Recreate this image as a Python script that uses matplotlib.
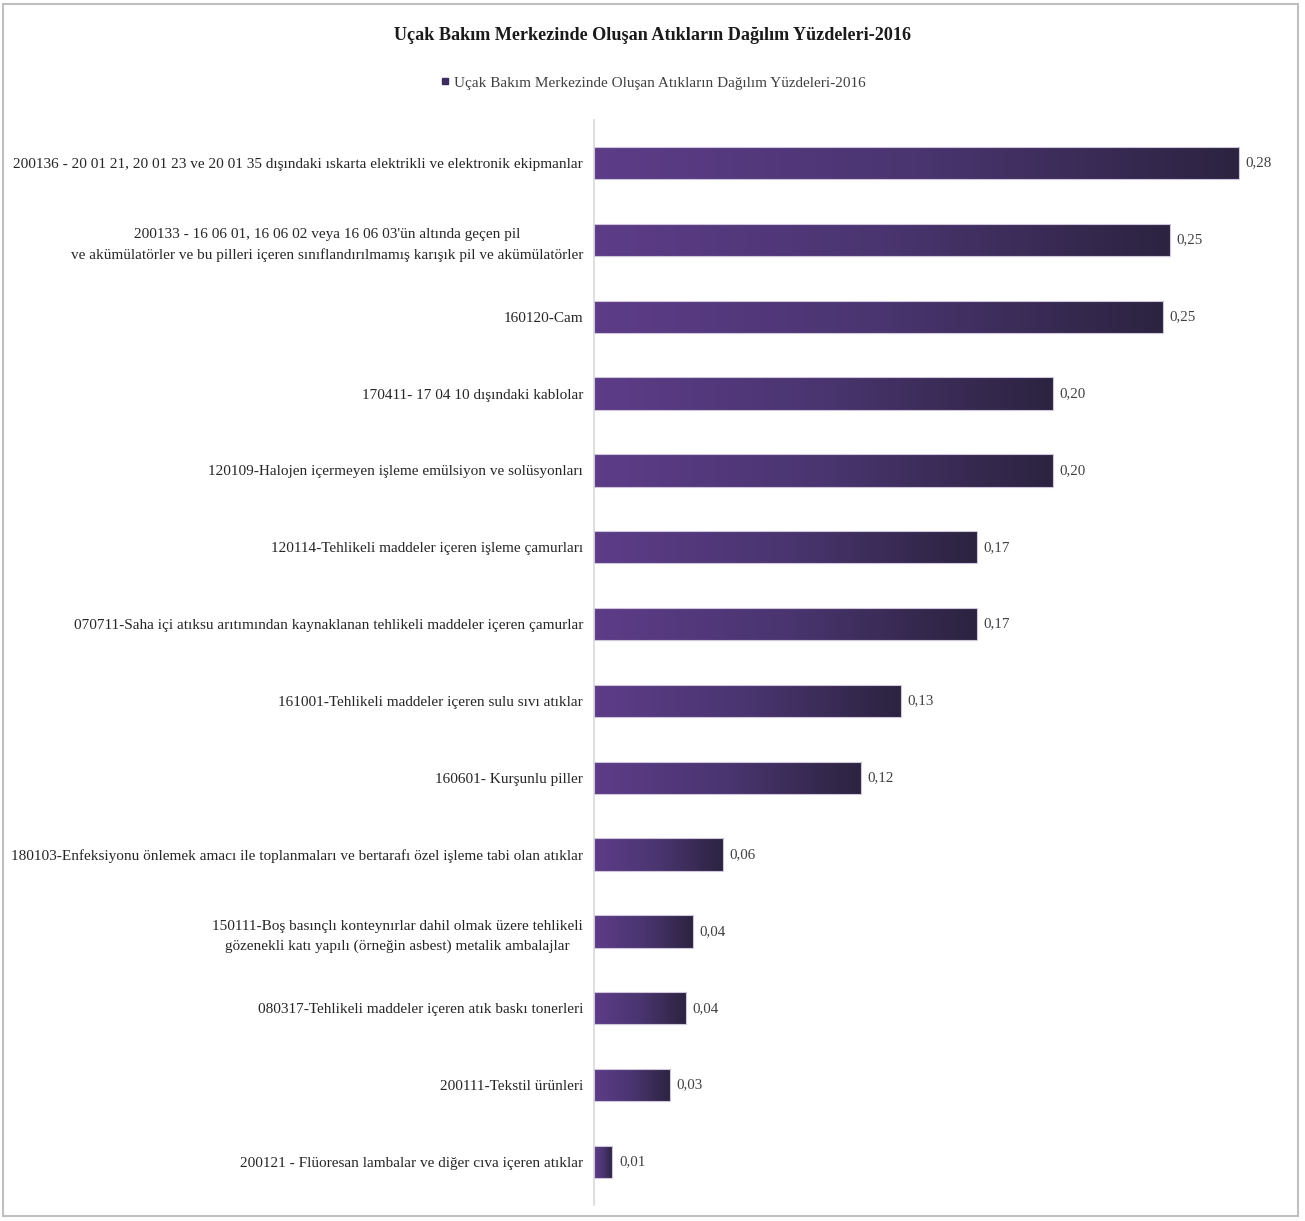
import numpy as np
import matplotlib
matplotlib.use("Agg")
from matplotlib import pyplot as plt
from matplotlib.colors import LinearSegmentedColormap
from matplotlib.lines import Line2D
from matplotlib.patches import Rectangle

plt.rcParams['font.family'] = ['Liberation Serif', 'DejaVu Serif']

title = "Uçak Bakım Merkezinde Oluşan Atıkların Dağılım Yüzdeleri-2016"

categories = [
    "200136 - 20 01 21, 20 01 23 ve 20 01 35 dışındaki ıskarta elektrikli ve elektronik ekipmanlar",
    "200133 - 16 06 01, 16 06 02 veya 16 06 03'ün altında geçen pil\n"
    "ve akümülatörler ve bu pilleri içeren sınıflandırılmamış karışık pil ve akümülatörler",
    "160120-Cam",
    "170411- 17 04 10 dışındaki kablolar",
    "120109-Halojen içermeyen işleme emülsiyon ve solüsyonları",
    "120114-Tehlikeli maddeler içeren işleme çamurları",
    "070711-Saha içi atıksu arıtımından kaynaklanan tehlikeli maddeler içeren çamurlar",
    "161001-Tehlikeli maddeler içeren sulu sıvı atıklar",
    "160601- Kurşunlu piller",
    "180103-Enfeksiyonu önlemek amacı ile toplanmaları ve bertarafı özel işleme tabi olan atıklar",
    "150111-Boş basınçlı konteynırlar dahil olmak üzere tehlikeli\n"
    "gözenekli katı yapılı (örneğin asbest) metalik ambalajlar",
    "080317-Tehlikeli maddeler içeren atık baskı tonerleri",
    "200111-Tekstil ürünleri",
    "200121 - Flüoresan lambalar ve diğer cıva içeren atıklar",
]
values = [0.280, 0.250, 0.247, 0.199, 0.199, 0.166, 0.166,
          0.133, 0.116, 0.056, 0.043, 0.040, 0.033, 0.008]

fig = plt.figure(figsize=(13.05, 12.21), dpi=100)
ax = fig.add_axes([0.4552, 0.0131, 0.5333, 0.8886])

# purple gradient running left to right inside each bar
grad_cmap = LinearSegmentedColormap.from_list("bar_grad", ["#5d3c88", "#4a3570", "#2c2340"])
gradient = np.linspace(0, 1, 256).reshape(1, -1)

y = np.arange(len(categories))
bars = ax.barh(y, values, height=0.42, color="none", edgecolor="#cfc6dc", linewidth=0.8, zorder=3)
for bar in bars:
    x0, y0 = bar.get_x(), bar.get_y()
    w, h = bar.get_width(), bar.get_height()
    im = ax.imshow(gradient, extent=[x0, x0 + w, y0, y0 + h], aspect="auto",
                   cmap=grad_cmap, interpolation="bilinear", zorder=2)
    im.set_clip_path(bar)

for yi, v in zip(y, values):
    ax.text(v + 0.0028, yi, f"{v:.2f}".replace(".", ","), va="center", ha="left",
            fontsize=10.8, color="#404040")

ax.set_xlim(0, 0.302)
ax.set_ylim(len(categories) - 0.44, -0.56)
ax.set_yticks(y)
ax.set_yticklabels(categories, fontsize=11, color="#262626", multialignment="center")
for lbl in ax.get_yticklabels():
    lbl.set_linespacing(1.65)
ax.tick_params(axis="y", length=0, pad=8)
ax.set_xticks([])
for side in ["top", "right", "bottom"]:
    ax.spines[side].set_visible(False)
ax.spines["left"].set_color("#d9d9d9")
ax.spines["left"].set_linewidth(1.2)

fig.text(0.5, 1 - 35 / 1221, title, ha="center", va="center",
         fontsize=13.1, fontweight="bold", color="#1a1a1a")
handle = Line2D([], [], marker="s", linestyle="none", markersize=5, color="#3d2d5e")
fig.legend([handle], [title], loc="center", bbox_to_anchor=(0.5, 1 - 83 / 1221),
           frameon=False, fontsize=11, handletextpad=0.2, handlelength=0.8,
           labelcolor="#404040")

# thin grey frame round the whole chart
fig.patches.append(Rectangle((0.0025, 0.004), 0.992, 0.993, transform=fig.transFigure,
                             fill=False, edgecolor="#bfbfbf", linewidth=1.5))

fig.savefig("out.png", dpi=100, facecolor="white")
